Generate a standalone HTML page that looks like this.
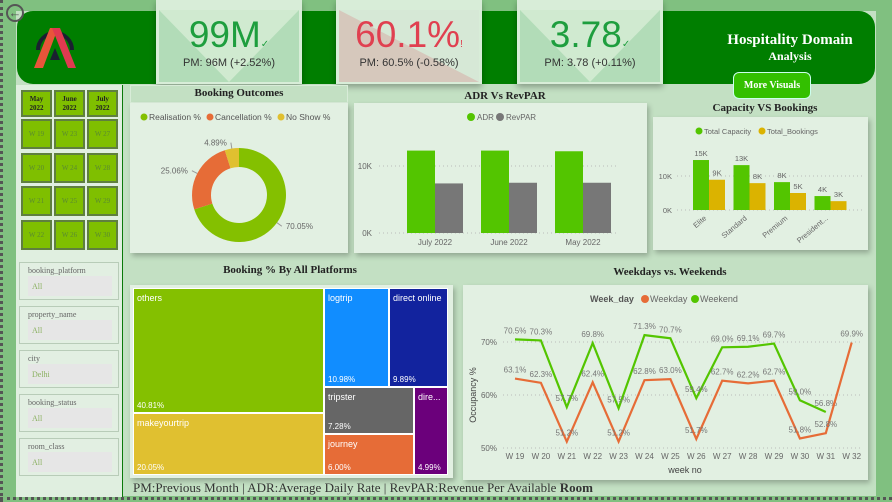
<!DOCTYPE html>
<html><head><meta charset="utf-8">
<style>
*{box-sizing:border-box;margin:0;padding:0}
body{width:892px;height:502px;overflow:hidden;background:#80c080;font-family:"Liberation Sans",sans-serif;position:relative}
.abs{position:absolute}
.serif{font-family:"Liberation Serif",serif}
.kpi{position:absolute;top:0;width:146px;height:84px;background:#d8edd8;box-shadow:0 3px 6px rgba(0,0,0,.3);overflow:hidden}
.kpi .in{position:absolute;left:3px;top:10px;width:140px;height:72px}
.kpi .v{position:absolute;left:0;width:146px;top:14px;text-align:center;font-size:37px;color:#1e9e3e}
.kpi .s{position:absolute;left:0;width:146px;top:57px;text-align:center;font-size:11px;color:#333}
.wk{position:absolute;width:31px;height:30px;background:#7fbf00;border:2px solid #5f7f3f;font-family:"Liberation Serif",serif;font-size:7px;color:#5a8a30;text-align:center;line-height:26px}
.slc{position:absolute;left:19px;width:100px;height:38px;border:1px solid #b8ccb8;background:#e2efe2}
.slc .t{position:absolute;left:8px;top:3px;font-family:"Liberation Serif",serif;font-size:8px;color:#666}
.slc .b{position:absolute;left:8px;top:13px;width:84px;height:20px;background:#e6e6e6;font-family:"Liberation Serif",serif;font-size:8px;color:#8ab060;padding:6px 4px}
.panel{position:absolute;background:#e2f0e2;box-shadow:2px 3px 5px rgba(0,0,0,.25)}
.ttl{position:absolute;font-family:"Liberation Serif",serif;font-weight:bold;font-size:11px;color:#222;text-align:center}
svg text{font-family:"Liberation Sans",sans-serif}
.tm{position:absolute;color:#fff;font-size:9px;padding:4px 3px;border:1px solid #fff}
.tm span{position:absolute;left:3px;bottom:2px;font-size:8px}
</style></head><body>
<div class="abs" style="left:0;top:0;width:4px;height:502px;border-left:3px dotted #555"></div>
<div class="abs" style="left:0;top:497px;width:892px;height:4px;border-top:3px dotted #555"></div>
<div class="abs" style="left:16px;top:11px;width:860px;height:485px;background:#c3e0c3"></div>
<div class="abs" style="left:17px;top:11px;width:858px;height:73px;background:#007e00;border-radius:16px"></div>
<div class="abs" style="left:6px;top:4px;width:18px;height:18px;border:2px solid #555;border-radius:50%;color:#555;font-size:13px;line-height:13px;text-align:center">←</div>
<svg class="abs" style="left:30px;top:20px" width="50" height="50" viewBox="0 0 50 50">
<path d="M8 30 A17 17 0 1 1 42 30" fill="none" stroke="#1a2030" stroke-width="4"/>
<polygon points="4,48 20,8 28,8 13,48" fill="#e8553a"/><polygon points="22,8 30,8 46,48 38,48" fill="#e03a50"/><polygon points="20,40 25,28 30,40" fill="#1a2030"/></svg>
<div class="kpi" style="left:156px"><svg class="in" viewBox="0 0 140 72" preserveAspectRatio="none"><rect width="140" height="72" fill="#b2dcb8"/><polygon points="0,0 140,0 70,72" fill="#d0ead0"/></svg><div class="v">99M<small style="font-size:10px">✓</small></div><div class="s">PM: 96M (+2.52%)</div></div>
<div class="kpi" style="left:336px"><svg class="in" viewBox="0 0 140 72" preserveAspectRatio="none"><rect width="140" height="72" fill="#d6c8bc"/><polygon points="0,0 140,0 140,72" fill="#d6e8d6"/></svg><div class="v" style="color:#e04050">60.1%<small style="font-size:10px">!</small></div><div class="s">PM: 60.5% (-0.58%)</div></div>
<div class="kpi" style="left:517px"><svg class="in" viewBox="0 0 140 72" preserveAspectRatio="none"><rect width="140" height="72" fill="#b2dcb8"/><polygon points="0,0 140,0 70,72" fill="#d0ead0"/></svg><div class="v">3.78<small style="font-size:10px">✓</small></div><div class="s">PM: 3.78 (+0.11%)</div></div>
<div class="abs serif" style="left:705px;top:32px;width:170px;text-align:center;color:#fff;font-weight:bold;font-size:15px;line-height:16px">Hospitality Domain<br><span style="font-size:12px">Analysis</span></div>
<div class="abs serif" style="left:733px;top:72px;width:78px;height:27px;background:#33c000;border:1px solid #cfe;border-radius:6px;color:#fff;font-weight:bold;font-size:10px;text-align:center;line-height:26px">More Visuals</div>

<div class="abs" style="left:16px;top:85px;width:107px;height:412px;background:#e0efe0;border-right:1px solid #0a7a0a"></div>
<div id="weeks"></div>
<div class="slc" style="top:262px"><div class="t">booking_platform</div><div class="b">All</div></div>
<div class="slc" style="top:306px"><div class="t">property_name</div><div class="b">All</div></div>
<div class="slc" style="top:350px"><div class="t">city</div><div class="b">Delhi</div></div>
<div class="slc" style="top:394px"><div class="t">booking_status</div><div class="b">All</div></div>
<div class="slc" style="top:438px"><div class="t">room_class</div><div class="b">All</div></div>

<div class="abs" style="left:130px;top:85px;width:218px;height:18px;background:#c3e0c3;border:1px solid #d8ecd8"></div>
<div class="ttl" style="left:130px;top:87px;width:218px">Booking Outcomes</div>
<div class="panel" style="left:130px;top:103px;width:218px;height:150px"><svg id="donut" width="218" height="150"></svg></div>

<div class="ttl" style="left:440px;top:90px;width:130px">ADR Vs RevPAR</div>
<div class="panel" style="left:354px;top:103px;width:293px;height:150px"><svg id="adr" width="293" height="150"></svg></div>

<div class="ttl" style="left:700px;top:102px;width:130px">Capacity VS Bookings</div>
<div class="panel" style="left:653px;top:117px;width:215px;height:133px"><svg id="cap" width="215" height="133"></svg></div>

<div class="ttl" style="left:190px;top:264px;width:200px">Booking % By All Platforms</div>
<div class="panel" style="left:130px;top:285px;width:323px;height:193px"></div>
<div class="tm" style="left:133px;top:288px;width:191px;height:125px;background:#84c000">others<span>40.81%</span></div>
<div class="tm" style="left:133px;top:413px;width:191px;height:62px;background:#e0c030">makeyourtrip<span>20.05%</span></div>
<div class="tm" style="left:324px;top:288px;width:65px;height:99px;background:#118dff">logtrip<span>10.98%</span></div>
<div class="tm" style="left:389px;top:288px;width:59px;height:99px;background:#12239e">direct online<span>9.89%</span></div>
<div class="tm" style="left:324px;top:387px;width:90px;height:47px;background:#666">tripster<span>7.28%</span></div>
<div class="tm" style="left:324px;top:434px;width:90px;height:41px;background:#e66c37">journey<span>6.00%</span></div>
<div class="tm" style="left:414px;top:387px;width:34px;height:88px;background:#6b007b">dire...<span>4.99%</span></div>

<div class="ttl" style="left:590px;top:266px;width:160px">Weekdays vs. Weekends</div>
<div class="panel" style="left:463px;top:285px;width:405px;height:195px"><svg id="line" width="405" height="195"></svg></div>

<div class="abs serif" style="left:133px;top:480px;font-size:13px;color:#333;white-space:nowrap">PM:Previous Month | ADR:Average Daily Rate | RevPAR:Revenue Per Available <b>Room</b></div>

<script>
const NS="http://www.w3.org/2000/svg";
function mk(p,t,a,txt){const e=document.createElementNS(NS,t);for(const k in a)e.setAttribute(k,a[k]);if(txt!==undefined)e.textContent=txt;p.appendChild(e);return e;}

const monthLabels=["May<br>2022","June<br>2022","July<br>2022"];
const weekCols=[["W 19","W 20","W 21","W 22"],["W 23","W 24","W 25","W 26"],["W 27","W 28","W 29","W 30"]];
const wk=document.getElementById('weeks');
monthLabels.forEach((m,c)=>{
  const d=document.createElement('div');d.className='wk';
  
  
  d.style.cssText=`left:${21+c*33}px;top:90px;height:27px;line-height:9px;padding-top:3px;color:#222;font-weight:bold`;d.innerHTML=m;wk.appendChild(d);
  weekCols[c].forEach((w,r)=>{const e=document.createElement('div');e.className='wk';
  
  
  e.style.left=(21+c*33)+'px';e.style.top=(119+r*33.5)+'px';e.textContent=w;wk.appendChild(e);});
});

const outcomeNames=["Realisation %","Cancellation %","No Show %"];
const outcomeVals=[70.05,25.06,4.89];
const outcomeCols=["#84c000","#e66c37","#e0c030"];
(function(){const s=document.getElementById('donut');
 const legX=[10,76,147];
 outcomeNames.forEach((n,i)=>{const lx=legX[i];const c=mk(s,'circle',{cx:lx+4,cy:14,r:3.5,fill:outcomeCols[i]});
 
 mk(s,'text',{x:lx+9,y:17,'font-size':8.5,fill:'#555'},n);});
 const cx=109,cy=92,R=47,r=28;let a=0;const tot=outcomeVals.reduce((x,y)=>x+y,0);
 outcomeVals.forEach((v,i)=>{const a0=a,a1=a+v/tot*2*Math.PI;a=a1;
  const p=(ang,rr)=>[cx+rr*Math.sin(ang),cy-rr*Math.cos(ang)];
  const [x0,y0]=p(a0,R),[x1,y1]=p(a1,R),[x2,y2]=p(a1,r),[x3,y3]=p(a0,r);const lg=a1-a0>Math.PI?1:0;
  const sl=mk(s,'path',{d:`M${x0},${y0}A${R},${R} 0 ${lg} 1 ${x1},${y1}L${x2},${y2}A${r},${r} 0 ${lg} 0 ${x3},${y3}Z`,fill:outcomeCols[i]});
  
  const mid=(a0+a1)/2;const [lx2,ly2]=p(mid,R+6);const right=Math.sin(mid)>0;
  mk(s,'line',{x1:p(mid,R)[0],y1:p(mid,R)[1],x2:lx2,y2:ly2,stroke:'#999'});
  mk(s,'text',{x:right?lx2+4:lx2-4,y:ly2+3,'font-size':8,fill:'#666','text-anchor':right?'start':'end'},v.toFixed(2)+'%');
 });})();

const adrMonths=["July 2022","June 2022","May 2022"];
const adrVals=[12.3,12.3,12.2];
const revparVals=[7.4,7.5,7.5];
(function(){const s=document.getElementById('adr');
 const y0=130,pk=6.7,y=v=>y0-v*pk;
 mk(s,'circle',{cx:117,cy:14,r:4,fill:'#53c500'});mk(s,'text',{x:123,y:17,'font-size':8,fill:'#666'},'ADR');
 mk(s,'circle',{cx:146,cy:14,r:4,fill:'#777'});mk(s,'text',{x:152,y:17,'font-size':8,fill:'#666'},'RevPAR');
 [0,10].forEach(t=>{mk(s,'line',{x1:25,x2:265,y1:y(t),y2:y(t),stroke:'#bbb','stroke-dasharray':'1,3'});mk(s,'text',{x:18,y:y(t)+3,'font-size':8,fill:'#666','text-anchor':'end'},t+'K');});
 adrMonths.forEach((m,i)=>{const x=53+i*74;
  const b1=mk(s,'rect',{x:x,y:y(adrVals[i]),width:28,height:adrVals[i]*pk,fill:'#53c500'});
  const b2=mk(s,'rect',{x:x+28,y:y(revparVals[i]),width:28,height:revparVals[i]*pk,fill:'#777'});
  mk(s,'text',{x:x+28,y:y0+12,'font-size':8,fill:'#666','text-anchor':'middle'},m);});})();

const roomClasses=["Elite","Standard","Premium","President..."];
const capacityVals=[14.7,13.2,8.2,4.1];
const bookingVals=[8.9,7.9,5.0,2.6];
const capLabels=["15K","13K","8K","4K"];
const bookLabels=["9K","8K","5K","3K"];
(function(){const s=document.getElementById('cap');
 const y0=93,pk=3.4,y=v=>y0-v*pk;
 mk(s,'circle',{cx:46,cy:14,r:3.5,fill:'#53c500'});mk(s,'text',{x:51,y:17,'font-size':7.5,fill:'#666'},'Total Capacity');
 mk(s,'circle',{cx:109,cy:14,r:3.5,fill:'#dbb300'});mk(s,'text',{x:114,y:17,'font-size':7.5,fill:'#666'},'Total_Bookings');
 [0,10].forEach(t=>{mk(s,'line',{x1:24,x2:210,y1:y(t),y2:y(t),stroke:'#bbb','stroke-dasharray':'1,3'});mk(s,'text',{x:19,y:y(t)+3,'font-size':7.5,fill:'#666','text-anchor':'end'},t+'K');});
 roomClasses.forEach((c,i)=>{const x=40+i*40.5;
  const b1=mk(s,'rect',{x:x,y:y(capacityVals[i]),width:16,height:capacityVals[i]*pk,fill:'#53c500'});
  const b2=mk(s,'rect',{x:x+16,y:y(bookingVals[i]),width:16,height:bookingVals[i]*pk,fill:'#dbb300'});
  mk(s,'text',{x:x+8,y:y(capacityVals[i])-4,'font-size':7.5,fill:'#666','text-anchor':'middle'},capLabels[i]);
  mk(s,'text',{x:x+24,y:y(bookingVals[i])-4,'font-size':7.5,fill:'#666','text-anchor':'middle'},bookLabels[i]);
  mk(s,'text',{x:x+14,y:y0+9,'font-size':7.5,fill:'#666','text-anchor':'end',transform:`rotate(-40 ${x+14} ${y0+9})`},c);});})();

const weeks=["W 19","W 20","W 21","W 22","W 23","W 24","W 25","W 26","W 27","W 28","W 29","W 30","W 31","W 32"];
const weekdayVals=[63.1,62.3,51.2,62.4,51.2,62.8,63.0,51.7,62.7,62.2,62.7,51.8,52.8,69.9];
const weekendVals=[70.5,70.3,57.7,69.8,57.5,71.3,70.7,59.4,69.0,69.1,69.7,59.0,56.8,null];
(function(){const s=document.getElementById('line');
 const x=i=>52+i*25.9,y=v=>110-(v-60)*5.3;
 mk(s,'text',{x:127,y:17,'font-size':9,'font-weight':'bold',fill:'#555'},'Week_day');
 mk(s,'circle',{cx:182,cy:14,r:4,fill:'#e66c37'});mk(s,'text',{x:187,y:17,'font-size':9,fill:'#666'},'Weekday');
 mk(s,'circle',{cx:232,cy:14,r:4,fill:'#53c500'});mk(s,'text',{x:237,y:17,'font-size':9,fill:'#666'},'Weekend');
 [50,60,70].forEach(t=>{mk(s,'line',{x1:40,x2:400,y1:y(t),y2:y(t),stroke:'#bbb','stroke-dasharray':'1,3'});mk(s,'text',{x:34,y:y(t)+3,'font-size':8,fill:'#666','text-anchor':'end'},t+'%');});
 mk(s,'text',{x:0,y:0,'font-size':9,fill:'#444','text-anchor':'middle',transform:`translate(13,${y(60)}) rotate(-90)`},'Occupancy %');
 mk(s,'text',{x:222,y:188,'font-size':9,fill:'#444','text-anchor':'middle'},'week no');
 weeks.forEach((w,i)=>mk(s,'text',{x:x(i),y:174,'font-size':8,fill:'#666','text-anchor':'middle'},w));
 function series(vals,col,name,off){let d='';vals.forEach((v,i)=>{if(v==null)return;d+=(d?'L':'M')+x(i)+','+y(v);});
  const p=mk(s,'path',{d:d,fill:'none',stroke:col,'stroke-width':2.2});
  vals.forEach((v,i)=>{if(v==null)return;mk(s,'text',{x:x(i),y:y(v)+off,'font-size':8,fill:'#777','text-anchor':'middle'},v.toFixed(1)+'%');});}
 series(weekendVals,'#53c500','weekend-line',-6);
 series(weekdayVals,'#e66c37','weekday-line',-6);})();
</script>
</body></html>
